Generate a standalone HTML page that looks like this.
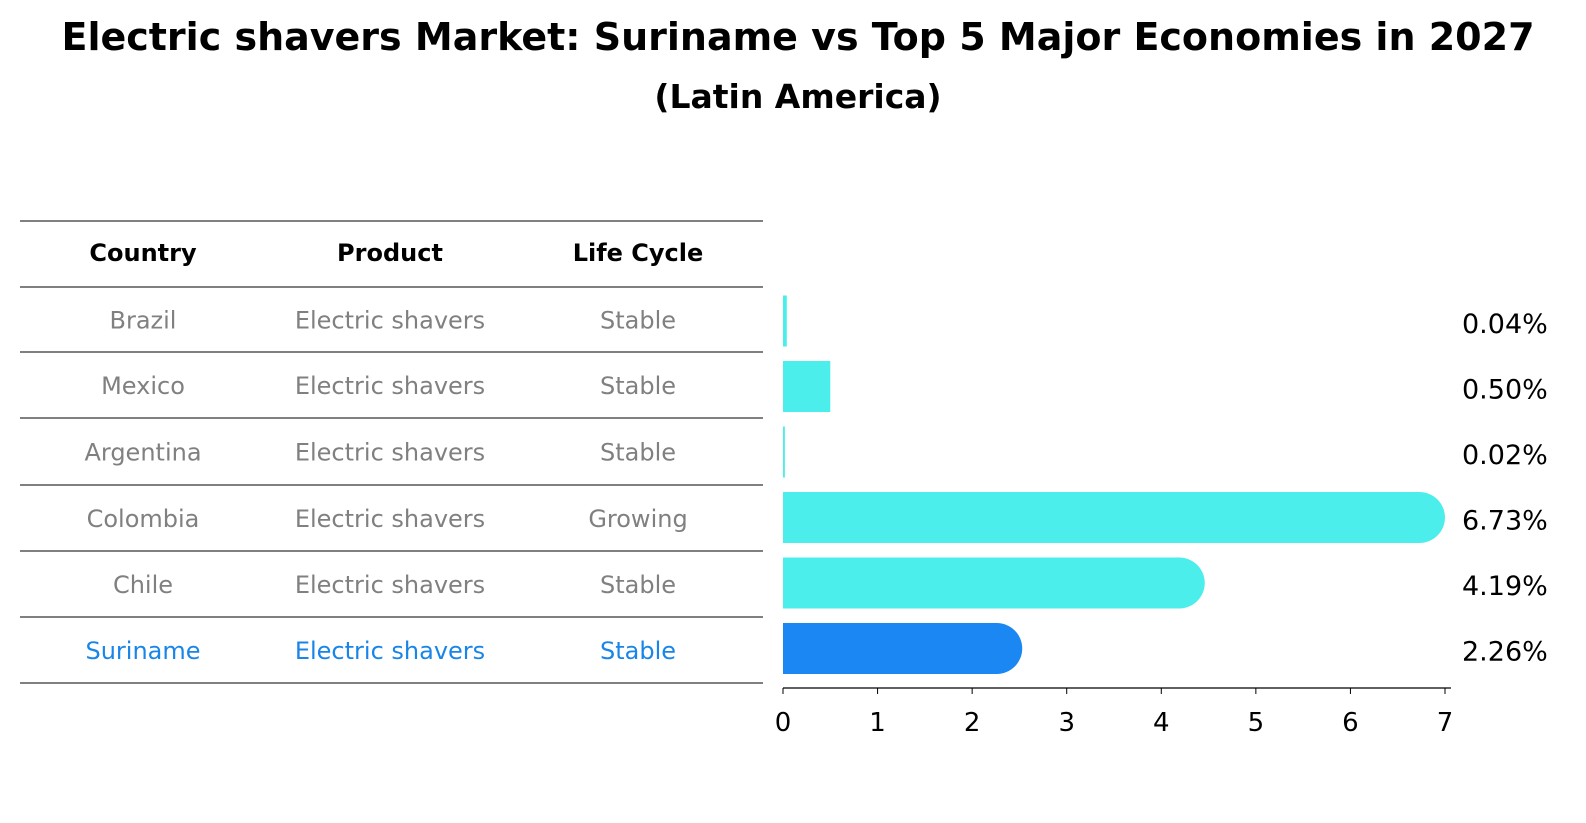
<!DOCTYPE html>
<html><head><meta charset="utf-8"><style>
html,body{margin:0;padding:0;background:#fff;overflow:hidden;width:1586px;height:823px;}
svg{display:block;}
svg text{font-family:"DejaVu Sans","Liberation Sans",sans-serif;}
</style></head><body>
<svg id="c" width="1586" height="823" xmlns="http://www.w3.org/2000/svg">
<text x="798" y="50" text-anchor="middle" font-size="38" font-weight="bold">Electric shavers Market: Suriname vs Top 5 Major Economies in 2027</text>
<text x="798" y="108" text-anchor="middle" font-size="33" font-weight="bold">(Latin America)</text>
<g id="tbl"></g>
<g id="bars"></g>
</svg>
<script>
const countries=["Brazil","Mexico","Argentina","Colombia","Chile","Suriname"];
const products=["Electric shavers","Electric shavers","Electric shavers","Electric shavers","Electric shavers","Electric shavers"];
const lifeCycles=["Stable","Stable","Stable","Growing","Stable","Stable"];
const shares=[0.04,0.50,0.02,6.73,4.19,2.26];
const ticks=[0,1,2,3,4,5,6,7];
const NS="http://www.w3.org/2000/svg";
function mk(tag,attrs,parent,txt){const e=document.createElementNS(NS,tag);for(const k in attrs)e.setAttribute(k,attrs[k]);if(txt!==undefined)e.textContent=txt;parent.appendChild(e);return e;}
const tbl=document.getElementById('tbl'), bars=document.getElementById('bars');
const lineYs=[221,287,352,418,485,551,617,683];
const colX=[143,390,638];
lineYs.forEach((y,i)=>{const l=mk('line',{x1:20,x2:763,y1:y,y2:y,stroke:'#000','stroke-width':1},tbl);

});
["Country","Product","Life Cycle"].forEach((h,i)=>{const t=mk('text',{x:colX[i],y:261,'text-anchor':'middle','font-size':24,'font-weight':'bold'},tbl,h);

});
const x0=783, sx=(1445-783)/7;
const X=v=>x0+v*sx;
const rowY=i=>321+i*65.5;
countries.forEach((c,i)=>{
 const last=c==="Suriname";
 const col=last?'#1a85e8':'#808080';
 const cy=(lineYs[i+1]+lineYs[i+2])/2+9;
 [c,products[i],lifeCycles[i]].forEach((v,j)=>{const t=mk('text',{x:colX[j],y:cy,'text-anchor':'middle','font-size':24,fill:col},tbl,v);
 
 });
 const yc=rowY(i), h=51, w=X(shares[i])-x0;
 const fill=last?'#1a87f2':'#4beeea';
 const g=mk('g',{},bars);
 
 
 mk('rect',{x:x0,y:yc-h/2,width:Math.max(w,1.5),height:h,fill:fill},g);
 if(shares[i]>1) mk('circle',{cx:X(shares[i]),cy:yc,r:h/2,fill:fill},g);
 const t=mk('text',{x:1462,y:yc+12,'font-size':27},bars,shares[i].toFixed(2)+'%');
 
 
});
const ax=mk('line',{x1:x0,x2:1451,y1:688,y2:688,stroke:'#000','stroke-width':1.2},bars);


ticks.forEach(v=>{const l=mk('line',{x1:X(v),x2:X(v),y1:688,y2:694,stroke:'#000'},bars);


const t=mk('text',{x:X(v),y:731,'text-anchor':'middle','font-size':26},bars,v);

});
</script>
</body></html>
